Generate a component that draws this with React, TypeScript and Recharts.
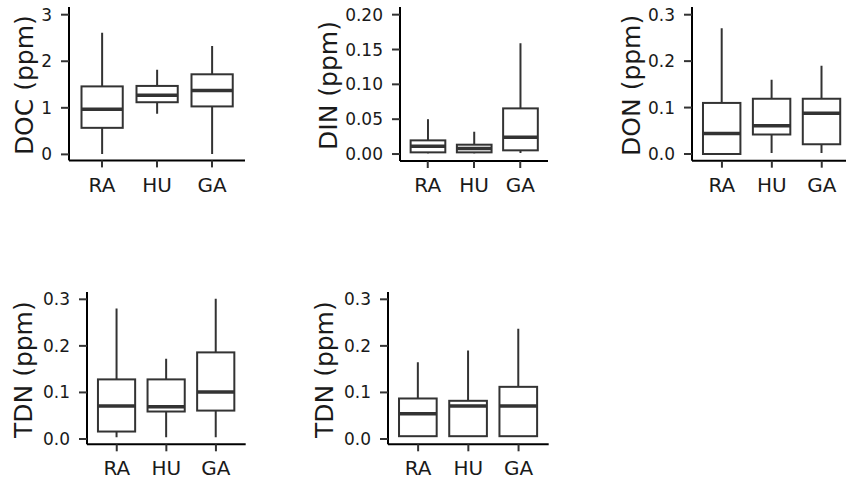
import React from "react";
import { ComposedChart, Bar, XAxis, YAxis } from "recharts";

const CATS = ["RA", "HU", "GA"];

// DOC (ppm)
const docLow = [0.01, 0.87, 0.01];
const docQ1 = [0.57, 1.12, 1.03];
const docMed = [0.97, 1.27, 1.37];
const docQ3 = [1.46, 1.47, 1.72];
const docHigh = [2.61, 1.82, 2.33];
const docTicks = [0, 1, 2, 3];

// DIN (ppm)
const dinLow = [0.001, 0.001, 0.0015];
const dinQ1 = [0.0024, 0.0024, 0.0053];
const dinMed = [0.011, 0.008, 0.024];
const dinQ3 = [0.0196, 0.0134, 0.0655];
const dinHigh = [0.05, 0.032, 0.159];
const dinTicks = [0, 0.05, 0.1, 0.15, 0.2];

// DON (ppm)
const donLow = [0, 0.002, 0.002];
const donQ1 = [0, 0.042, 0.021];
const donMed = [0.044, 0.061, 0.088];
const donQ3 = [0.11, 0.119, 0.119];
const donHigh = [0.271, 0.16, 0.19];
const donTicks = [0, 0.1, 0.2, 0.3];

// TDN (ppm), first panel
const tdnLow = [0.004, 0.004, 0.004];
const tdnQ1 = [0.016, 0.059, 0.061];
const tdnMed = [0.071, 0.069, 0.101];
const tdnQ3 = [0.128, 0.128, 0.186];
const tdnHigh = [0.28, 0.1725, 0.301];
const tdnTicks = [0, 0.1, 0.2, 0.3];

// TDN (ppm), second panel
const tdn2Low = [0.006, 0.006, 0.006];
const tdn2Q1 = [0.006, 0.006, 0.006];
const tdn2Med = [0.054, 0.071, 0.071];
const tdn2Q3 = [0.087, 0.082, 0.112];
const tdn2High = [0.165, 0.19, 0.237];

const FONT = "'DejaVu Sans', Verdana, sans-serif";
const INK = "#333333";
const TXT = "#1a1a1a";
const YW = 90;
const MT = 10;
const XH = 45;
const MR = 2;

function BoxShape(props: any) {
  const { x, y, width, height, payload } = props;
  const top = Math.min(y, y + height);
  const h = Math.abs(height);
  const span = payload.high - payload.low;
  const k = span > 0 ? h / span : 0;
  const py = (v: number) => top + (payload.high - v) * k;
  const cx = x + width / 2;
  const yQ3 = py(payload.q3);
  const yQ1 = py(payload.q1);
  return (
    <g>
      <line x1={cx} x2={cx} y1={top} y2={yQ3} stroke={INK} strokeWidth={2} />
      <line x1={cx} x2={cx} y1={yQ1} y2={top + h} stroke={INK} strokeWidth={2} />
      <rect
        x={x}
        y={yQ3}
        width={width}
        height={Math.max(yQ1 - yQ3, 0.5)}
        fill="#ffffff"
        stroke={INK}
        strokeWidth={2}
      />
      <line
        x1={x}
        x2={x + width}
        y1={py(payload.med)}
        y2={py(payload.med)}
        stroke={INK}
        strokeWidth={3.5}
      />
    </g>
  );
}

function BoxPanel({
  title,
  low,
  q1,
  med,
  q3,
  high,
  ticks,
  digits,
  domain,
  axisX,
  top,
  bottom,
  right,
  titleX,
}: any) {
  const data = CATS.map((c, i) => ({
    cat: c,
    low: low[i],
    q1: q1[i],
    med: med[i],
    q3: q3[i],
    high: high[i],
  }));
  const plotW = right - axisX;
  const unit = plotW / 3.2;
  const pad = unit * 0.1;
  const width = YW + plotW + MR;
  const plotH = bottom - top;
  const height = MT + plotH + XH;
  const left = axisX - YW;

  // titleX is the baseline of the rotated axis title
  const renderTitle = () => {
    const tx = titleX - left;
    const ty = MT + plotH / 2 + 1.5;
    return (
      <text
        x={tx}
        y={ty}
        transform={`rotate(-90 ${tx} ${ty})`}
        textAnchor="middle"
        fontFamily={FONT}
        fontSize={25}
        fill={TXT}
      >
        {title}
      </text>
    );
  };

  return (
    <div style={{ position: "absolute", left, top: top - MT, width, height }}>
      <ComposedChart
        width={width}
        height={height}
        data={data}
        margin={{ top: MT, right: MR, bottom: 0, left: 0 }}
      >
        <XAxis
          dataKey="cat"
          height={XH}
          padding={{ left: pad, right: pad }}
          axisLine={{ stroke: "#000", strokeWidth: 2 }}
          tickLine={{ stroke: INK, strokeWidth: 2 }}
          tickSize={7}
          tickMargin={10}
          tick={{ fill: TXT, fontSize: 20, fontFamily: FONT }}
        />
        <YAxis
          type="number"
          width={YW}
          domain={domain}
          allowDataOverflow
          ticks={ticks}
          interval={0}
          tickFormatter={(v: number) => v.toFixed(digits)}
          axisLine={{ stroke: "#000", strokeWidth: 2 }}
          tickLine={{ stroke: INK, strokeWidth: 2 }}
          tickSize={8}
          tickMargin={9}
          tick={{ fill: TXT, fontSize: 17, fontFamily: FONT }}
          label={renderTitle}
        />
        <Bar
          dataKey={(d: any) => [d.low, d.high]}
          barSize={unit * 0.75}
          shape={(p: any) => <BoxShape {...p} />}
          isAnimationActive={false}
        />
      </ComposedChart>
    </div>
  );
}

export default function App() {
  return (
    <div
      style={{
        position: "absolute",
        left: 0,
        top: 0,
        width: 846,
        height: 481,
        overflow: "hidden",
        background: "#ffffff",
      }}
    >
      <BoxPanel
        title="DOC (ppm)"
        low={docLow}
        q1={docQ1}
        med={docMed}
        q3={docQ3}
        high={docHigh}
        ticks={docTicks}
        digits={0}
        domain={[-0.129, 3.165]}
        axisX={69}
        top={7.3}
        bottom={160.7}
        right={245}
        titleX={33}
      />
      <BoxPanel
        title="DIN (ppm)"
        low={dinLow}
        q1={dinQ1}
        med={dinMed}
        q3={dinQ3}
        high={dinHigh}
        ticks={dinTicks}
        digits={2}
        domain={[-0.01, 0.211]}
        axisX={400}
        top={7.3}
        bottom={161.3}
        right={548}
        titleX={337}
      />
      <BoxPanel
        title="DON (ppm)"
        low={donLow}
        q1={donQ1}
        med={donMed}
        q3={donQ3}
        high={donHigh}
        ticks={donTicks}
        digits={1}
        domain={[-0.0144, 0.3166]}
        axisX={692.3}
        top={7.3}
        bottom={161}
        right={852}
        titleX={640}
      />
      <BoxPanel
        title="TDN (ppm)"
        low={tdnLow}
        q1={tdnQ1}
        med={tdnMed}
        q3={tdnQ3}
        high={tdnHigh}
        ticks={tdnTicks}
        digits={1}
        domain={[-0.0114, 0.3157]}
        axisX={87.3}
        top={291.7}
        bottom={444}
        right={246}
        titleX={32}
      />
      <BoxPanel
        title="TDN (ppm)"
        low={tdn2Low}
        q1={tdn2Q1}
        med={tdn2Med}
        q3={tdn2Q3}
        high={tdn2High}
        ticks={tdnTicks}
        digits={1}
        domain={[-0.0114, 0.3157]}
        axisX={388.3}
        top={291.7}
        bottom={444}
        right={549}
        titleX={333}
      />
    </div>
  );
}
